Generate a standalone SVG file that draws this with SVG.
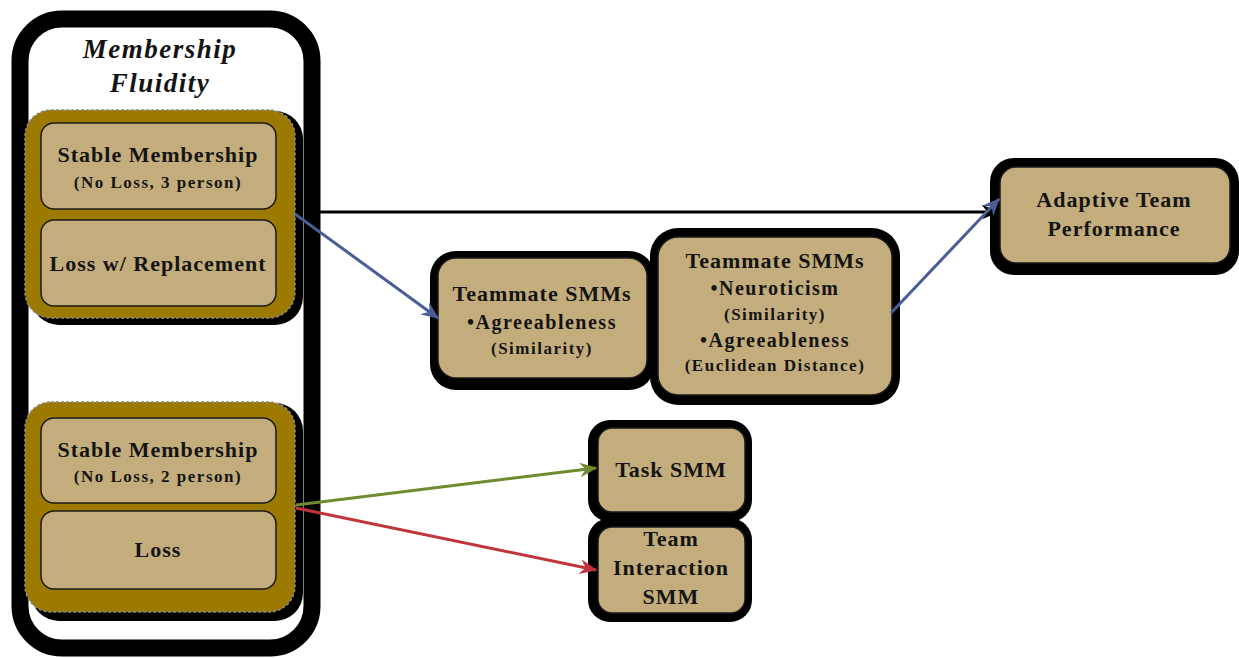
<svg xmlns="http://www.w3.org/2000/svg" width="1239" height="658" viewBox="0 0 1239 658">
<defs>
<style>
.tan{fill:#C4AD7C;stroke:#1a1a1a;stroke-width:1.5}
.sh{fill:#000}
.gold{fill:#9C7A00;stroke:#8a8a8a;stroke-width:1.5;stroke-dasharray:3 2}
.t{font-family:'Liberation Serif','DejaVu Serif','Times New Roman',serif;font-weight:bold;fill:#141414;text-anchor:middle}
.big{font-size:22px;letter-spacing:1px}
.med{font-size:20px;letter-spacing:1.5px}
.sm{font-size:17px;letter-spacing:1.5px}
.con{fill:none;stroke-width:3}
</style>
<marker id="ak" viewBox="0 0 12 10" refX="11" refY="5" markerWidth="6" markerHeight="5" orient="auto" markerUnits="strokeWidth"><path d="M0,0 L12,5 L0,10 L4,5 z" fill="#000"/></marker>
<marker id="ab" viewBox="0 0 12 10" refX="11" refY="5" markerWidth="6" markerHeight="5" orient="auto" markerUnits="strokeWidth"><path d="M0,0 L12,5 L0,10 L4,5 z" fill="#4A5D94"/></marker>
<marker id="ag" viewBox="0 0 12 10" refX="11" refY="5" markerWidth="6" markerHeight="5" orient="auto" markerUnits="strokeWidth"><path d="M0,0 L12,5 L0,10 L4,5 z" fill="#6E8B2E"/></marker>
<marker id="ar" viewBox="0 0 12 10" refX="11" refY="5" markerWidth="6" markerHeight="5" orient="auto" markerUnits="strokeWidth"><path d="M0,0 L12,5 L0,10 L4,5 z" fill="#C0353A"/></marker>
</defs>
<rect width="1239" height="658" fill="#fff"/>

<g id="container">
<rect x="20" y="19" width="292" height="629" rx="42" fill="#fff" stroke="#000" stroke-width="17"/>
<text class="t" x="160" y="58" font-size="27" font-style="italic" letter-spacing="1.5" fill="#000">Membership</text>
<text class="t" x="160" y="92" font-size="27" font-style="italic" letter-spacing="1.5" fill="#000">Fluidity</text>
</g>

<g id="group1">
<rect class="sh" x="31" y="111" width="272" height="214" rx="28"/>
<rect class="gold" x="25" y="110" width="270" height="208" rx="26"/>
</g>
<g id="stable3">
<rect class="tan" x="41" y="123" width="235" height="86" rx="13"/>
<text class="t big" x="158" y="162">Stable Membership</text>
<text class="t sm" x="158" y="188">(No Loss, 3 person)</text>
</g>
<g id="lossrepl">
<rect class="tan" x="41" y="220" width="235" height="86" rx="13"/>
<text class="t big" x="158" y="271" letter-spacing="1.6">Loss w/ Replacement</text>
</g>

<g id="group2">
<rect class="sh" x="31" y="403" width="272" height="218" rx="28"/>
<rect class="gold" x="25" y="402" width="270" height="210" rx="26"/>
</g>
<g id="stable2">
<rect class="tan" x="41" y="418" width="235" height="85" rx="13"/>
<text class="t big" x="158" y="457">Stable Membership</text>
<text class="t sm" x="158" y="482">(No Loss, 2 person)</text>
</g>
<g id="loss">
<rect class="tan" x="41" y="511" width="235" height="78" rx="13"/>
<text class="t big" x="158" y="557">Loss</text>
</g>

<g id="tsmm1">
<rect class="sh" x="430" y="251" width="225" height="139" rx="26"/>
<rect class="tan" x="438" y="258" width="209" height="120" rx="18"/>
<text class="t big" x="542" y="301">Teammate SMMs</text>
<text class="t med" x="542" y="329">•Agreeableness</text>
<text class="t sm" x="542" y="354">(Similarity)</text>
</g>

<g id="tsmm2">
<rect class="sh" x="650" y="228" width="250" height="177" rx="28"/>
<rect class="tan" x="658" y="237" width="234" height="158" rx="20"/>
<text class="t big" x="775" y="268">Teammate SMMs</text>
<text class="t med" x="775" y="295">•Neuroticism</text>
<text class="t sm" x="775" y="320">(Similarity)</text>
<text class="t med" x="775" y="347">•Agreeableness</text>
<text class="t sm" x="775" y="371">(Euclidean Distance)</text>
</g>

<g id="task">
<rect class="sh" x="588" y="420" width="164" height="102" rx="22"/>
<rect class="tan" x="598" y="428" width="147" height="84" rx="14"/>
<text class="t big" x="671" y="477">Task SMM</text>
</g>

<g id="teaminteraction">
<rect class="sh" x="588" y="518" width="164" height="104" rx="22"/>
<rect class="tan" x="598" y="527" width="147" height="86" rx="14"/>
<text class="t big" x="671" y="546">Team</text>
<text class="t big" x="671" y="575">Interaction</text>
<text class="t big" x="671" y="604">SMM</text>
</g>

<g id="adaptive">
<rect class="sh" x="990" y="158" width="249" height="117" rx="24"/>
<rect class="tan" x="1000" y="167" width="230" height="96" rx="16"/>
<text class="t big" x="1114" y="207">Adaptive Team</text>
<text class="t big" x="1114" y="236">Performance</text>
</g>

<g id="connectors">
<line class="con" x1="320" y1="212" x2="998" y2="212" stroke="#000" marker-end="url(#ak)"/>
<line class="con" x1="295" y1="214" x2="438" y2="318" stroke="#4A5D94" marker-end="url(#ab)"/>
<line class="con" x1="891" y1="313" x2="999" y2="199" stroke="#4A5D94" marker-end="url(#ab)"/>
<line class="con" x1="296" y1="505" x2="596" y2="468" stroke="#6E8B2E" marker-end="url(#ag)"/>
<line class="con" x1="296" y1="508" x2="596" y2="570" stroke="#C0353A" marker-end="url(#ar)"/>
</g>
</svg>
